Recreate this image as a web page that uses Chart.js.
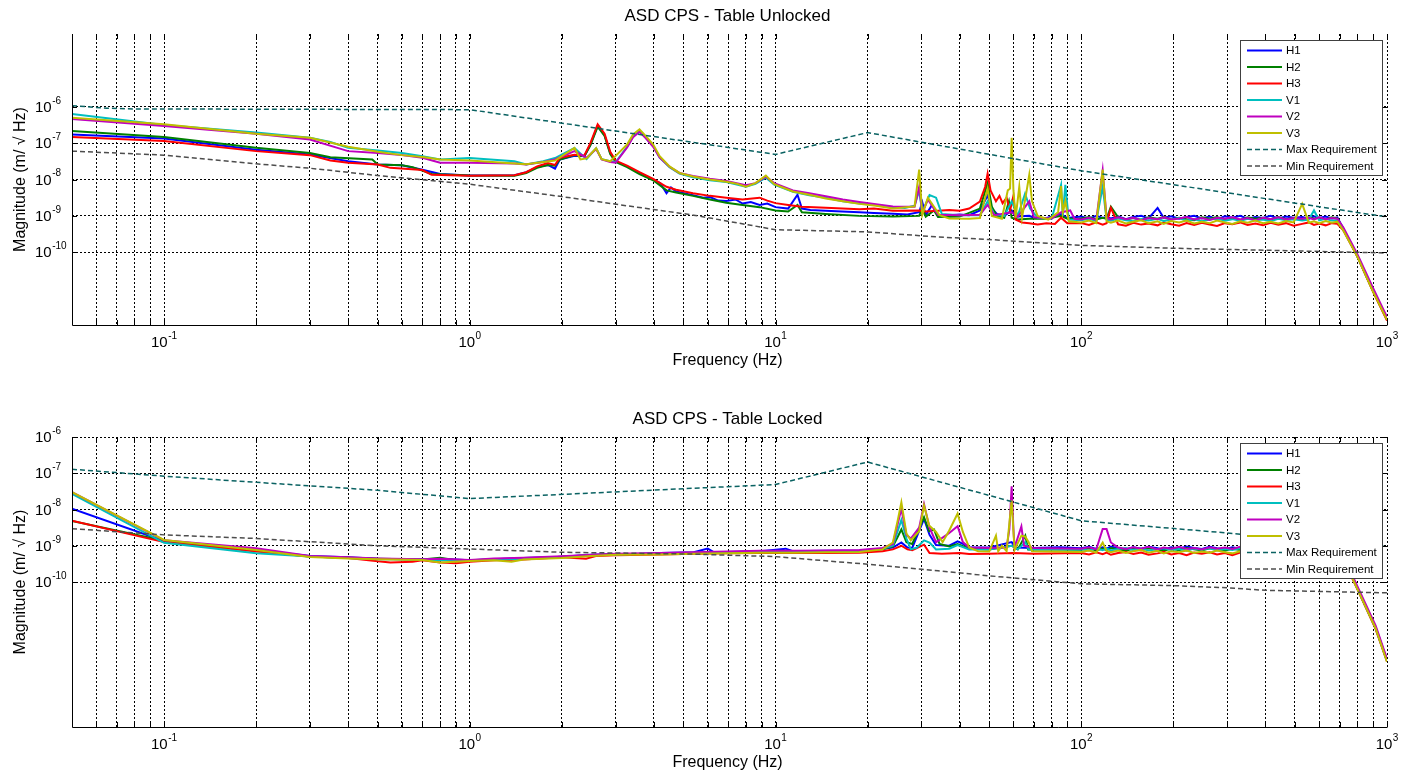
<!DOCTYPE html>
<html>
<head>
<meta charset="utf-8">
<title>ASD CPS</title>
<script src="https://cdn.jsdelivr.net/npm/chart.js@4.4.1/dist/chart.umd.min.js"></script>
<style>
  body { margin: 0; background: #fff; }
  #wrap { position: relative; width: 1414px; height: 774px; }
  #wrap canvas { position: absolute; left: 0; }
</style>
</head>
<body>
<div id="wrap">
  <canvas id="unlockedChart" width="1414" height="387" style="top:0"></canvas>
  <canvas id="lockedChart" width="1414" height="387" style="top:387px"></canvas>
</div>
<script>
// Series are [frequency Hz, log10 magnitude m/sqrt(Hz)] pairs, plus the
// levels of the flat 100-690 Hz band sampled at bandFreqs.
const bandFreqs = [100,106,112,117.5,121,125,132,140,148,157,166,177.7,186,197,209,221,234,248,263,278,295,312,331,350,371,393,416,441,467,495,528,555,577,600,630,660,688];

// ---- Table unlocked ----
const unlockedH1 = [[0.05,-6.76],[0.1,-6.87],[0.2,-7.18],[0.3,-7.31],[0.4,-7.5],[0.5,-7.59],[0.6,-7.61],[0.7,-7.73],[0.8,-7.85],[1,-7.89],[1.4,-7.88],[1.53,-7.8],[1.66,-7.66],[1.8,-7.6],[1.9,-7.7],[1.97,-7.45],[2.2,-7.35],[2.37,-7.36],[2.48,-7.04],[2.62,-6.52],[2.76,-6.78],[2.88,-7.27],[3.0,-7.5],[3.27,-7.64],[3.59,-7.82],[3.98,-8.0],[4.2,-8.1],[4.4,-8.38],[4.55,-8.22],[4.73,-8.33],[5.37,-8.43],[5.8,-8.5],[6.1,-8.48],[6.5,-8.58],[6.9,-8.59],[7.4,-8.55],[7.8,-8.66],[8.3,-8.62],[8.87,-8.7],[9.4,-8.66],[10,-8.76],[11,-8.8],[11.8,-8.42],[12.2,-8.8],[13,-8.84],[14.6,-8.86],[16.5,-8.88],[18.8,-8.9],[21,-8.92],[24.2,-8.94],[27,-8.96],[29.5,-8.9],[30.2,-8.62],[31,-8.98],[32.5,-8.7],[34,-8.98],[37,-8.98],[40,-8.96],[43,-8.98],[46.6,-8.85],[49.4,-8.44],[51,-8.8],[53,-8.95],[56,-9.0],[59.2,-8.85],[61,-9.02],[67.6,-9.0],[70,-9.05],[77,-9.06],[86,-8.95],[90,-9.06],[720,-9.35],[800,-10.1],[900,-11.05],[1000,-11.84]];
const unlockedH1Band = [-9.02,-9.08,-9.0,-9.06,-9.03,-9.07,-9.01,-9.09,-9.03,-9.0,-9.07,-8.78,-9.05,-9.01,-9.08,-9.03,-9.0,-9.07,-9.02,-9.09,-9.01,-9.05,-9.0,-9.08,-9.03,-9.06,-9.0,-9.07,-9.02,-9.05,-9.03,-9.08,-9.01,-9.06,-9.02,-9.07,-9.04];
const unlockedH2 = [[0.05,-6.67],[0.1,-6.83],[0.2,-7.13],[0.3,-7.27],[0.35,-7.39],[0.48,-7.45],[0.5,-7.59],[0.6,-7.61],[0.65,-7.66],[0.75,-7.85],[1,-7.89],[1.4,-7.9],[1.53,-7.82],[1.66,-7.68],[1.8,-7.6],[1.9,-7.62],[1.97,-7.45],[2.2,-7.33],[2.37,-7.36],[2.48,-7.06],[2.62,-6.55],[2.76,-6.8],[2.88,-7.3],[3.0,-7.52],[3.27,-7.66],[3.59,-7.85],[3.98,-8.02],[4.4,-8.3],[4.73,-8.36],[5.37,-8.45],[6.1,-8.55],[6.9,-8.64],[7.8,-8.7],[8.87,-8.76],[10,-8.85],[11,-8.88],[11.8,-8.7],[12.2,-8.9],[14.6,-8.95],[18.8,-9.0],[24.2,-9.02],[29.5,-9.0],[30.2,-8.8],[31,-9.02],[33,-8.85],[34,-9.03],[40,-9.02],[46.6,-8.8],[49.4,-8.1],[51,-8.75],[53,-9.0],[56,-9.05],[58,-8.6],[59.2,-9.05],[62,-9.1],[67.6,-9.08],[77,-9.08],[86,-9.0],[90,-9.08],[720,-9.36],[800,-10.12],[900,-11.07],[1000,-11.85]];
const unlockedH2Band = [-9.07,-9.03,-9.1,-9.05,-9.08,-8.75,-9.04,-9.1,-9.06,-9.11,-9.04,-9.08,-9.03,-9.1,-9.05,-9.09,-9.12,-9.04,-9.08,-9.03,-9.1,-9.06,-9.11,-9.04,-9.08,-9.05,-9.1,-9.03,-9.09,-9.06,-9.1,-9.04,-9.08,-9.05,-9.1,-9.04,-9.07];
const unlockedH3 = [[0.05,-6.83],[0.1,-6.94],[0.2,-7.22],[0.3,-7.33],[0.35,-7.48],[0.4,-7.54],[0.5,-7.59],[0.55,-7.68],[0.7,-7.74],[0.75,-7.87],[1,-7.9],[1.4,-7.88],[1.53,-7.8],[1.66,-7.64],[1.8,-7.55],[1.9,-7.6],[1.97,-7.4],[2.2,-7.32],[2.37,-7.34],[2.48,-7.0],[2.62,-6.48],[2.76,-6.74],[2.88,-7.24],[3.0,-7.48],[3.27,-7.62],[3.59,-7.8],[3.98,-7.98],[4.4,-8.2],[4.73,-8.28],[5.37,-8.38],[6.1,-8.45],[6.9,-8.5],[7.8,-8.55],[8.87,-8.5],[9.4,-8.58],[10,-8.65],[11,-8.7],[12.2,-8.75],[14.6,-8.78],[18.8,-8.82],[21,-8.8],[24.2,-8.86],[29.5,-8.85],[31,-8.88],[34,-8.86],[37,-8.84],[40,-8.86],[43,-8.8],[46.6,-8.61],[48.5,-8.2],[49.4,-7.84],[50.5,-8.3],[52.6,-8.6],[54,-8.45],[55.3,-8.65],[57,-8.5],[58.5,-8.85],[60,-8.45],[61,-9.1],[64,-9.18],[67.6,-9.2],[72,-9.24],[77,-9.2],[82,-9.22],[85.9,-9.05],[90,-9.2],[720,-9.4],[800,-10.12],[900,-11.08],[1000,-11.88]];
const unlockedH3Band = [-9.2,-9.25,-9.18,-9.24,-9.2,-8.78,-9.23,-9.27,-9.19,-9.24,-9.21,-9.26,-9.18,-9.23,-9.27,-9.2,-9.25,-9.19,-9.24,-9.28,-9.2,-9.23,-9.18,-9.25,-9.21,-9.26,-9.19,-9.24,-9.2,-9.27,-9.22,-9.18,-9.25,-9.21,-9.26,-9.2,-9.22];
const unlockedV1 = [[0.05,-6.2],[0.1,-6.5],[0.2,-6.71],[0.3,-6.85],[0.35,-6.97],[0.4,-7.13],[0.5,-7.2],[0.6,-7.27],[0.7,-7.36],[0.8,-7.45],[1,-7.41],[1.4,-7.5],[1.53,-7.59],[1.74,-7.5],[1.9,-7.41],[2.2,-7.13],[2.41,-7.44],[2.59,-7.14],[2.7,-7.44],[2.88,-7.5],[3.0,-7.52],[3.27,-7.1],[3.42,-6.82],[3.59,-6.67],[3.76,-6.85],[3.98,-7.08],[4.18,-7.4],[4.5,-7.66],[4.85,-7.84],[5.37,-7.94],[6.1,-8.02],[6.9,-8.07],[8.0,-8.2],[8.6,-8.12],[9.3,-7.95],[9.9,-8.14],[11.4,-8.34],[12.9,-8.43],[14.6,-8.5],[16.6,-8.6],[18.8,-8.66],[21.3,-8.7],[24.2,-8.76],[26.5,-8.78],[28.5,-8.72],[29.5,-8.3],[30.2,-8.9],[31.9,-8.43],[33.5,-8.5],[35,-8.95],[40,-8.98],[46.6,-8.98],[49.4,-8.6],[52,-8.97],[56,-9.0],[59.2,-8.6],[62,-9.0],[65.5,-8.39],[68,-8.8],[72,-9.05],[80,-9.08],[85.9,-8.15],[87,-9.0],[88.7,-8.15],[91,-9.1],[720,-9.38],[800,-10.1],[900,-11.04],[1000,-11.82]];
const unlockedV1Band = [-9.12,-9.08,-9.14,-8.2,-9.1,-9.13,-9.07,-9.12,-9.15,-9.09,-9.13,-9.08,-9.14,-9.1,-9.06,-9.13,-9.09,-9.15,-9.1,-9.07,-9.13,-9.09,-9.14,-9.08,-9.12,-9.1,-9.15,-9.08,-9.12,-9.09,-9.13,-9.1,-8.85,-9.12,-9.08,-9.13,-9.12];
const unlockedV2 = [[0.05,-6.34],[0.1,-6.53],[0.2,-6.74],[0.3,-6.9],[0.4,-7.22],[0.5,-7.27],[0.6,-7.33],[0.7,-7.4],[0.8,-7.54],[1,-7.54],[1.4,-7.56],[1.53,-7.59],[1.74,-7.52],[1.9,-7.45],[2.2,-7.22],[2.41,-7.4],[2.59,-7.16],[2.7,-7.45],[2.88,-7.52],[3.0,-7.54],[3.27,-7.12],[3.42,-6.84],[3.59,-6.69],[3.76,-6.86],[3.98,-7.1],[4.18,-7.4],[4.5,-7.65],[4.85,-7.82],[5.37,-7.9],[6.1,-7.98],[6.9,-8.04],[8.0,-8.16],[8.6,-8.1],[9.3,-7.92],[9.9,-8.1],[11.4,-8.3],[12.9,-8.38],[14.6,-8.46],[16.6,-8.55],[18.8,-8.62],[21.3,-8.68],[24.2,-8.74],[28.5,-8.75],[29.5,-8.2],[30.2,-8.92],[31.5,-8.55],[34,-8.97],[40,-8.98],[46.6,-8.97],[49.4,-8.7],[52,-8.98],[59.2,-8.9],[62,-9.02],[67.6,-8.6],[70,-9.04],[80,-9.07],[86,-8.9],[92,-8.85],[95,-9.08],[720,-9.32],[800,-10.05],[900,-10.98],[1000,-11.78]];
const unlockedV2Band = [-9.1,-9.05,-9.11,-7.75,-9.06,-9.1,-9.04,-9.09,-9.05,-9.12,-9.06,-9.09,-9.04,-9.1,-9.07,-9.03,-9.1,-9.06,-9.11,-9.05,-9.08,-9.04,-9.1,-9.06,-9.12,-9.05,-9.09,-9.04,-9.1,-9.06,-9.08,-9.05,-9.1,-9.04,-9.09,-9.06,-9.08];
const unlockedV3 = [[0.05,-6.3],[0.1,-6.48],[0.2,-6.74],[0.3,-6.85],[0.4,-7.1],[0.5,-7.24],[0.6,-7.33],[0.7,-7.38],[0.8,-7.45],[1,-7.48],[1.4,-7.56],[1.53,-7.58],[1.74,-7.52],[1.9,-7.48],[2.2,-7.13],[2.3,-7.45],[2.41,-7.42],[2.59,-7.14],[2.7,-7.44],[2.88,-7.5],[3.0,-7.35],[3.27,-7.04],[3.42,-6.76],[3.59,-6.62],[3.76,-6.8],[3.98,-7.04],[4.18,-7.36],[4.5,-7.64],[4.85,-7.82],[5.37,-7.92],[6.1,-8.0],[6.9,-8.06],[7.5,-8.12],[8.0,-8.2],[8.6,-8.1],[9.3,-7.89],[9.9,-8.13],[11.4,-8.33],[12.9,-8.42],[14.6,-8.52],[16.6,-8.6],[18.8,-8.67],[21.3,-8.72],[24.2,-8.8],[28.5,-8.74],[29.5,-7.73],[30.2,-8.97],[31.5,-8.5],[34.4,-8.98],[37,-9.07],[43,-9.08],[46.6,-9.06],[49.4,-8.25],[51,-9.0],[55,-9.08],[57.5,-8.3],[58.5,-8.25],[59.2,-6.85],[60,-8.3],[61,-9.05],[62.7,-8.2],[64,-9.05],[66,-8.4],[67.6,-7.87],[69,-8.6],[72,-9.0],[78,-9.1],[84,-8.9],[85.9,-8.18],[87,-8.9],[88.7,-8.6],[91,-9.15],[720,-9.4],[800,-10.12],[900,-11.08],[1000,-11.86]];
const unlockedV3Band = [-9.18,-9.13,-9.2,-7.73,-9.15,-9.19,-9.13,-9.21,-9.16,-9.12,-9.2,-9.15,-9.22,-9.14,-9.18,-9.13,-9.21,-9.16,-9.2,-9.13,-9.18,-9.22,-9.15,-9.19,-9.13,-9.2,-9.16,-9.21,-9.14,-9.18,-8.67,-9.19,-9.15,-9.2,-9.14,-9.19,-9.16];
const unlockedMax = [[0.05,-5.97],[0.065,-6.04],[0.08,-6.06],[1,-6.08],[10,-7.31],[20,-6.71],[100,-7.76],[1000,-9.03]];
const unlockedMin = [[0.05,-7.22],[0.1,-7.33],[0.2,-7.57],[0.3,-7.69],[0.5,-7.89],[1,-8.13],[2,-8.47],[5.4,-8.98],[10,-9.38],[20,-9.44],[34,-9.58],[50,-9.65],[100,-9.81],[200,-9.89],[430,-9.95],[1000,-10.02]];

// ---- Table locked ----
const lockedH1 = [[0.05,-7.98],[0.1,-8.87],[0.2,-9.12],[0.3,-9.28],[0.4,-9.32],[0.5,-9.36],[0.7,-9.38],[0.8,-9.36],[1,-9.4],[1.2,-9.37],[1.5,-9.34],[2,-9.3],[2.5,-9.25],[3,-9.23],[3.7,-9.22],[4.2,-9.2],[5.4,-9.18],[6.0,-9.08],[6.3,-9.18],[6.9,-9.17],[8.9,-9.15],[10.8,-9.08],[11.4,-9.15],[14.6,-9.14],[18.8,-9.13],[22.4,-9.08],[24.2,-9.05],[25.8,-8.91],[27,-9.05],[28,-9.06],[30.6,-8.26],[31.9,-8.7],[33.5,-8.98],[37,-9.0],[39.4,-8.88],[41,-8.95],[43,-9.04],[50,-9.05],[59.2,-8.9],[61,-9.05],[70,-9.06],[85,-9.04],[720,-9.3],[806,-10.22],[918,-11.25],[1000,-12.15]];
const lockedH1Band = [-9.07,-9.03,-9.09,-9.04,-9.08,-9.02,-9.07,-9.1,-9.04,-9.08,-9.03,-9.07,-9.1,-9.04,-9.08,-9.02,-9.06,-9.09,-9.03,-9.07,-9.1,-9.04,-9.08,-9.03,-9.07,-9.09,-9.04,-9.08,-9.02,-9.07,-9.05,-9.09,-9.03,-9.07,-9.04,-9.08,-9.06];
const lockedH2 = [[0.05,-8.32],[0.1,-8.86],[0.2,-9.14],[0.3,-9.3],[0.4,-9.33],[0.5,-9.36],[0.7,-9.38],[0.8,-9.33],[0.9,-9.4],[1,-9.41],[1.2,-9.38],[1.5,-9.36],[2,-9.3],[2.5,-9.26],[3,-9.24],[4.2,-9.22],[5.4,-9.2],[6.9,-9.19],[8.9,-9.17],[11.4,-9.17],[14.6,-9.16],[18.8,-9.15],[22.4,-9.1],[24.2,-9.02],[25.8,-8.55],[26.8,-8.9],[28,-8.95],[30.6,-8.21],[31.8,-8.6],[33,-8.55],[34.4,-8.95],[37,-9.02],[39.4,-8.95],[43,-9.08],[50,-9.1],[59.2,-9.0],[62,-9.1],[65.6,-8.72],[67,-9.1],[80,-9.1],[720,-9.32],[806,-10.24],[918,-11.27],[1000,-12.17]];
const lockedH2Band = [-9.11,-9.07,-9.13,-9.08,-9.12,-9.06,-9.1,-9.14,-9.08,-9.12,-9.07,-9.11,-9.14,-9.08,-9.12,-9.06,-9.1,-9.13,-9.07,-9.11,-9.14,-9.08,-9.12,-9.07,-9.11,-9.13,-9.08,-9.12,-9.06,-9.11,-9.09,-9.13,-9.07,-9.11,-9.08,-9.12,-9.1];
const lockedH3 = [[0.05,-8.31],[0.1,-8.9],[0.2,-9.16],[0.3,-9.3],[0.4,-9.34],[0.5,-9.43],[0.55,-9.46],[0.65,-9.44],[0.7,-9.4],[0.8,-9.46],[0.9,-9.48],[1,-9.44],[1.2,-9.4],[1.5,-9.38],[1.7,-9.35],[2,-9.32],[2.4,-9.36],[2.6,-9.28],[3,-9.26],[4.2,-9.24],[5.4,-9.22],[6.9,-9.21],[8.9,-9.2],[11.4,-9.2],[14.6,-9.2],[18.8,-9.19],[22.4,-9.15],[24.2,-9.1],[25.8,-9.0],[27,-9.1],[28,-9.12],[30.6,-8.97],[31.9,-9.2],[35,-9.22],[40,-9.2],[43,-9.23],[50,-9.22],[60,-9.2],[70,-9.22],[720,-9.38],[806,-10.26],[918,-11.3],[1000,-12.2]];
const lockedH3Band = [-9.2,-9.24,-9.18,-9.23,-9.19,-9.25,-9.2,-9.17,-9.23,-9.19,-9.25,-9.21,-9.17,-9.24,-9.2,-9.26,-9.19,-9.22,-9.18,-9.24,-9.2,-9.26,-9.19,-9.23,-9.18,-9.24,-9.21,-9.17,-9.23,-9.2,-9.25,-9.19,-9.22,-9.18,-9.24,-9.2,-9.2];
const lockedV1 = [[0.05,-7.57],[0.1,-8.92],[0.2,-9.21],[0.3,-9.3],[0.4,-9.34],[0.5,-9.37],[0.7,-9.38],[0.8,-9.4],[1,-9.4],[1.2,-9.38],[1.5,-9.36],[2,-9.3],[2.5,-9.26],[3,-9.24],[4.2,-9.21],[5.4,-9.19],[6.9,-9.18],[8.9,-9.16],[11.4,-9.16],[14.6,-9.15],[18.8,-9.14],[22.4,-9.08],[24.2,-9.0],[25.8,-8.29],[26.8,-8.8],[27.7,-9.1],[29,-9.05],[30.6,-8.85],[31.9,-8.91],[33.5,-9.1],[37,-9.08],[39.4,-8.98],[43,-9.1],[50,-9.1],[59.2,-9.0],[62,-9.1],[65.6,-8.9],[67.3,-9.1],[80,-9.1],[720,-9.33],[806,-10.24],[918,-11.27],[1000,-12.18]];
const lockedV1Band = [-9.1,-9.13,-9.07,-9.12,-9.08,-9.13,-9.09,-9.06,-9.12,-9.08,-9.13,-9.1,-9.07,-9.12,-9.09,-9.14,-9.08,-9.11,-9.07,-9.13,-9.09,-9.12,-9.07,-9.11,-9.08,-9.13,-9.1,-9.06,-9.12,-9.09,-9.13,-9.08,-9.11,-9.07,-9.12,-9.09,-9.1];
const lockedV2 = [[0.05,-7.52],[0.1,-8.85],[0.2,-9.07],[0.3,-9.28],[0.4,-9.32],[0.5,-9.35],[0.7,-9.37],[0.8,-9.36],[1,-9.39],[1.2,-9.35],[1.5,-9.33],[2,-9.29],[2.5,-9.25],[3,-9.22],[4.2,-9.2],[5.4,-9.18],[6.9,-9.16],[8.9,-9.14],[11.4,-9.14],[14.6,-9.13],[18.8,-9.12],[22.4,-9.06],[24.2,-8.95],[25.8,-7.98],[26.8,-8.7],[27.7,-8.8],[29.5,-8.5],[30.6,-7.85],[31.9,-8.5],[33.5,-8.9],[37,-8.65],[39.4,-8.46],[41,-8.9],[43,-9.05],[50,-9.06],[57,-9.05],[58.2,-8.54],[59.2,-7.36],[60,-8.54],[60.5,-9.05],[63.7,-8.47],[65,-9.0],[70,-9.06],[720,-9.28],[806,-10.18],[918,-11.2],[1000,-12.12]];
const lockedV2Band = [-9.08,-9.04,-9.1,-8.54,-8.54,-8.91,-9.05,-9.09,-9.04,-9.08,-9.03,-9.1,-9.05,-9.08,-9.03,-9.09,-9.06,-9.1,-9.04,-9.08,-9.05,-9.09,-9.03,-9.07,-9.1,-9.05,-9.08,-9.03,-9.09,-9.06,-9.1,-9.04,-9.08,-9.05,-9.09,-9.05,-9.07];
const lockedV3 = [[0.05,-7.52],[0.1,-8.84],[0.2,-9.12],[0.3,-9.31],[0.4,-9.35],[0.5,-9.37],[0.7,-9.39],[0.8,-9.46],[1,-9.42],[1.2,-9.4],[1.37,-9.44],[1.5,-9.38],[2,-9.34],[2.5,-9.28],[3,-9.25],[4.2,-9.24],[5.4,-9.22],[6.9,-9.21],[8.9,-9.19],[11.4,-9.19],[14.6,-9.18],[18.8,-9.17],[22.4,-9.1],[24.2,-8.91],[25.1,-8.3],[25.8,-7.8],[26.8,-8.66],[27.7,-8.85],[29.5,-8.6],[30.6,-7.89],[31.8,-8.44],[33.5,-8.62],[35.2,-8.9],[37,-8.58],[39.4,-8.11],[41,-8.62],[43,-9.05],[46,-9.15],[50,-9.16],[52.6,-8.72],[53.5,-9.15],[55,-9.0],[57,-9.15],[59.2,-7.75],[60.5,-9.12],[63.7,-8.72],[65.6,-8.75],[67.3,-8.9],[69,-9.15],[80,-9.16],[720,-9.36],[806,-10.25],[918,-11.28],[1000,-12.2]];
const lockedV3Band = [-9.17,-9.13,-9.19,-8.91,-9.14,-9.18,-9.13,-9.2,-9.15,-9.12,-9.19,-9.14,-9.21,-9.15,-9.18,-9.13,-9.2,-9.16,-9.19,-9.13,-9.18,-9.21,-9.15,-9.19,-9.13,-9.2,-9.16,-9.21,-9.14,-9.18,-9.15,-9.19,-9.14,-9.2,-9.15,-9.19,-9.16];
const lockedMax = [[0.05,-6.89],[0.1,-7.08],[0.2,-7.25],[0.5,-7.47],[1,-7.7],[10,-7.31],[20,-6.69],[100,-8.31],[1000,-9.02]];
const lockedMin = [[0.05,-8.53],[0.1,-8.7],[0.2,-8.8],[0.5,-9.0],[1,-9.09],[2,-9.18],[5.4,-9.23],[10,-9.3],[20,-9.51],[34,-9.69],[50,-9.83],[100,-10.05],[200,-10.1],[300,-10.16],[400,-10.23],[1000,-10.3]];

const seriesNames = ['H1', 'H2', 'H3', 'V1', 'V2', 'V3', 'Max Requirement', 'Min Requirement'];
const seriesColors = ['#0000ff', '#008000', '#ff0000', '#00bfbf', '#bf00bf', '#bfbf00', '#0a6262', '#4d4d4d'];

// grid positions
const xGrid = [0.06, 0.07, 0.08, 0.09,
  0.1, 0.2, 0.3, 0.4, 0.5, 0.6, 0.7, 0.8, 0.9,
  1, 2, 3, 4, 5, 6, 7, 8, 9,
  10, 20, 30, 40, 50, 60, 70, 80, 90,
  100, 200, 300, 400, 500, 600, 700, 800, 900, 1000];
const xDecades = [-1, 0, 1, 2, 3];
const yDecades = [-6, -7, -8, -9, -10];

const FONT = '"Liberation Sans", Arial, Helvetica, sans-serif';

// merge the pairs with the band levels, sorted by frequency
function toPoints(pairs, band) {
  const all = band ? pairs.concat(bandFreqs.map((f, i) => [f, band[i]])) : pairs.slice();
  all.sort((a, b) => a[0] - b[0]);
  return all.map(([f, l]) => ({ x: f, y: Math.pow(10, l) }));
}

function buildDatasets(list) {
  return list.map(([pairs, band], i) => {
    const isReq = i >= 6;
    return {
      label: seriesNames[i],
      data: toPoints(pairs, band),
      borderColor: seriesColors[i],
      borderWidth: isReq ? 1.5 : 2,
      borderDash: isReq ? [5, 3] : [],
      pointRadius: 0,
      fill: false,
      tension: 0,
      order: 10 - i // later series on top
    };
  });
}

// draws "10" with a superscript exponent, left edge at x
function drawPow(ctx, x, y, exp) {
  ctx.textAlign = 'left';
  ctx.textBaseline = 'middle';
  ctx.font = '15px ' + FONT;
  ctx.fillText('10', x, y);
  const w = ctx.measureText('10').width;
  ctx.font = '10px ' + FONT;
  ctx.fillText(String(exp), x + w + 0.5, y - 7);
}

function powWidth(ctx, exp) {
  ctx.font = '15px ' + FONT;
  const w = ctx.measureText('10').width;
  ctx.font = '10px ' + FONT;
  return w + 0.5 + ctx.measureText(String(exp)).width;
}

const matlabAxes = {
  id: 'matlabAxes',
  afterDraw(chart, args, opts) {
    const { ctx, chartArea: a, scales: { x, y } } = chart;
    ctx.save();
    ctx.fillStyle = '#000';
    ctx.strokeStyle = '#000';
    ctx.lineWidth = 1;

    // left and bottom axis lines
    ctx.beginPath();
    ctx.moveTo(a.left + 0.5, a.top);
    ctx.lineTo(a.left + 0.5, a.bottom + 0.5);
    ctx.lineTo(a.right + 0.5, a.bottom + 0.5);
    ctx.stroke();

    // tick marks pointing inward
    ctx.beginPath();
    xGrid.forEach(v => {
      const px = Math.round(x.getPixelForValue(v)) + 0.5;
      ctx.moveTo(px, a.bottom); ctx.lineTo(px, a.bottom - 5);
      ctx.moveTo(px, a.top); ctx.lineTo(px, a.top + 5);
    });
    yDecades.forEach(e => {
      const py = Math.round(y.getPixelForValue(Math.pow(10, e))) + 0.5;
      ctx.moveTo(a.left, py); ctx.lineTo(a.left + 5, py);
      ctx.moveTo(a.right, py); ctx.lineTo(a.right - 5, py);
    });
    ctx.stroke();

    // tick labels
    xDecades.forEach(e => {
      const px = x.getPixelForValue(Math.pow(10, e));
      const w = powWidth(ctx, e);
      drawPow(ctx, px - w / 2, a.bottom + 18, e);
    });
    yDecades.forEach(e => {
      const py = y.getPixelForValue(Math.pow(10, e));
      drawPow(ctx, a.left - 37, py + 1, e);
    });

    // titles
    const cx = (a.left + a.right) / 2;
    ctx.textAlign = 'center';
    ctx.textBaseline = 'middle';
    ctx.font = '17px ' + FONT;
    ctx.fillText(opts.title, cx - 2, a.top - 18);
    ctx.font = '16px ' + FONT;
    ctx.fillText('Frequency (Hz)', cx - 2, a.bottom + 36);
    ctx.save();
    ctx.translate(21, (a.top + a.bottom) / 2);
    ctx.rotate(-Math.PI / 2);
    ctx.fillText('Magnitude (m/ \u221A Hz)', 0, 0);
    ctx.restore();

    // legend box
    const bx = a.right - 147, by = a.top + 6, bw = 142, bh = 135;
    ctx.fillStyle = '#fff';
    ctx.fillRect(bx, by, bw, bh);
    ctx.strokeStyle = '#404040';
    ctx.strokeRect(bx + 0.5, by + 0.5, bw, bh);
    ctx.font = '11.5px ' + FONT;
    ctx.textAlign = 'left';
    chart.data.datasets.forEach((ds, i) => {
      const ry = by + 10.5 + i * 16.5;
      ctx.strokeStyle = ds.borderColor;
      ctx.lineWidth = ds.borderWidth;
      ctx.setLineDash(ds.borderDash);
      ctx.beginPath();
      ctx.moveTo(bx + 7, ry);
      ctx.lineTo(bx + 42, ry);
      ctx.stroke();
      ctx.setLineDash([]);
      ctx.fillStyle = '#000';
      ctx.fillText(ds.label, bx + 46, ry + 0.5);
    });
    ctx.restore();
  }
};

function makeChart(id, series, yMin, yMax, title, padding) {
  return new Chart(document.getElementById(id), {
    type: 'line',
    data: { datasets: buildDatasets(series) },
    options: {
      responsive: false,
      animation: false,
      devicePixelRatio: 1,
      layout: { padding },
      plugins: {
        legend: { display: false },
        tooltip: { enabled: false },
        matlabAxes: { title }
      },
      scales: {
        x: {
          type: 'logarithmic',
          min: 0.05,
          max: 1000,
          afterBuildTicks: s => { s.ticks = xGrid.map(v => ({ value: v })); },
          ticks: { display: false },
          grid: { color: '#000', lineWidth: 1, drawTicks: false },
          border: { display: false, dash: [2, 2] }
        },
        y: {
          type: 'logarithmic',
          min: yMin,
          max: yMax,
          afterBuildTicks: s => { s.ticks = yDecades.map(e => ({ value: Math.pow(10, e) })); },
          ticks: { display: false },
          grid: { color: '#000', lineWidth: 1, drawTicks: false },
          border: { display: false, dash: [2, 2] }
        }
      }
    },
    plugins: [matlabAxes]
  });
}

makeChart('unlockedChart', [
  [unlockedH1, unlockedH1Band], [unlockedH2, unlockedH2Band], [unlockedH3, unlockedH3Band],
  [unlockedV1, unlockedV1Band], [unlockedV2, unlockedV2Band], [unlockedV3, unlockedV3Band],
  [unlockedMax], [unlockedMin]
], 1e-12, 1e-4, 'ASD CPS - Table Unlocked', { left: 72, right: 27, top: 34, bottom: 62 });

makeChart('lockedChart', [
  [lockedH1, lockedH1Band], [lockedH2, lockedH2Band], [lockedH3, lockedH3Band],
  [lockedV1, lockedV1Band], [lockedV2, lockedV2Band], [lockedV3, lockedV3Band],
  [lockedMax], [lockedMin]
], 1e-14, 1e-6, 'ASD CPS - Table Locked', { left: 72, right: 27, top: 50, bottom: 47 });
</script>
</body>
</html>
